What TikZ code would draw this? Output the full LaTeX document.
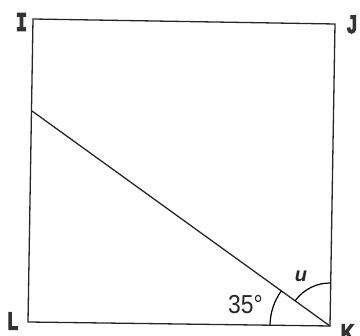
\documentclass[tikz,border=0pt]{standalone}
\usepackage{fontspec}
\setmainfont{Liberation Sans}
\newfontfamily\serifI{DejaVu Sans Mono}
\usetikzlibrary{angles}
\newcommand{\heavytext}[1]{\special{pdf:literal direct 2 Tr 1.2 w}#1\special{pdf:literal direct 0 Tr}}
\begin{document}
\begin{tikzpicture}[x=1pt,y=-1pt,
  edge/.style={line width=1.3pt,black!85},
  vlabel/.style={font=\fontsize{25}{25}\selectfont\bfseries,inner sep=0pt,text=black!80},
  alabel/.style={font=\fontsize{26}{26}\selectfont,inner sep=0pt,text=black!85}]
\useasboundingbox (0,0) rectangle (360,336);
\coordinate (I) at (33,19);
\coordinate (J) at (335,24);
\coordinate (K) at (330,326);
\coordinate (L) at (28,322);
\coordinate (P) at (32,111);
\draw[edge] (I) -- (J) -- (K) -- (L) -- cycle;
\draw[edge] (P) -- (K);
\pic[draw,line width=1.2pt,angle radius=60pt] {angle = P--K--L};
\pic[draw,line width=1.2pt,angle radius=43pt] {angle = J--K--P};
\node[vlabel] (tI) at (21.5,22) {\scalebox{0.8}[1]{\serifI\fontsize{24}{24}\selectfont\bfseries\heavytext{I}}};
\node[vlabel] (tJ) at (352,24.5) {\scalebox{0.7}[1]{\heavytext{J}}};
\node[vlabel] (tL) at (13,321) {\scalebox{0.7}[1]{\heavytext{L}}};
\node[vlabel] (tK) at (347.5,333) {\scalebox{0.75}[1]{\heavytext{K}}};
\node[alabel] (t35) at (245.5,304.5) {\scalebox{0.88}[1]{35°}};
\node[alabel,font=\fontsize{20}{20}\selectfont\bfseries\itshape] (tu) at (301,276) {u};
\end{tikzpicture}
\end{document}
